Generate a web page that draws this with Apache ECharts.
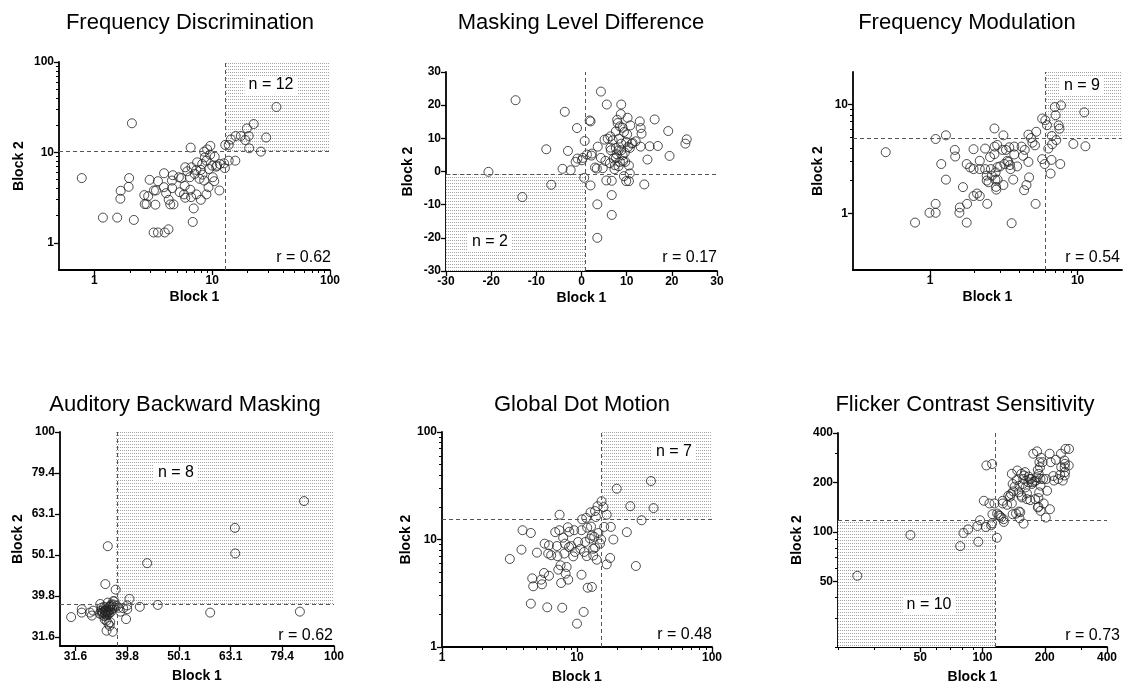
<!DOCTYPE html>
<html>
<head>
<meta charset="utf-8">
<script src="https://cdn.jsdelivr.net/npm/echarts@6/dist/echarts.min.js"></script>
<style>
  html, body { margin: 0; background: #fff; }
  #chart { width: 1128px; height: 687px; }
</style>
</head>
<body>
<div id="chart"></div>
<script>
// ---- data (Block 1 / Block 2 thresholds per listener) ----
const fdBlock1 = [0.78, 2.08, 1.18, 1.56, 2.16, 1.67, 1.66, 1.97, 1.95, 2.65,
  2.67, 2.77, 2.94, 2.86, 3.2, 3.33, 3.29, 3.18, 3.46, 3.9,
  3.46, 3.89, 4.06, 3.95, 4.25, 4.27, 4.4, 4.69, 4.57, 4.63,
  4.55, 5.21, 5.47, 5.29, 5.83, 5.76, 5.9, 5.9, 6.14, 6.44,
  6.56, 6.52, 6.67, 6.62, 6.96, 6.83, 7.1, 7.34, 7.44, 7.34,
  8.0, 8.0, 8.26, 8.22, 8.54, 8.66, 8.54, 8.93, 9.3, 9.06,
  9.64, 9.6, 10.0, 10.1, 10.4, 10.5, 10.8, 11.0, 11.5, 11.6,
  12.6, 12.8, 12.9, 13.8, 13.8, 14.4, 15.7, 15.8, 17.5, 19.1,
  19.7, 20.4, 20.6, 22.5, 25.9, 28.7, 35.1, 8.93, 9.4, 7.8];
const fdBlock2 = [5.2, 21, 1.9, 1.9, 1.79, 3.76, 3.07, 5.2, 4.16, 3.37,
  2.68, 2.68, 4.97, 3.28, 3.79, 3.79, 2.64, 1.3, 1.3, 5.88,
  4.8, 4.12, 3.54, 1.3, 1.41, 2.99, 2.66, 2.66, 4.02, 5.59,
  4.88, 5.31, 5.2, 3.63, 4.26, 3.43, 3.15, 6.84, 6.18, 5.31,
  11.3, 3.86, 6.84, 3.2, 2.4, 1.7, 5.78, 6.4, 7.76, 3.43,
  2.99, 6.4, 5.68, 7.44, 10.2, 8.81, 4.88, 3.43, 4.12, 10.8,
  11.8, 9.43, 7.13, 5.31, 4.8, 8.96, 6.95, 7.13, 3.79, 7.44,
  7.57, 6.7, 12.1, 12.1, 8.1, 13.9, 8.1, 15.2, 15.2, 13.7,
  18.4, 15.2, 11.1, 20.6, 10.2, 14.6, 31.8, 8.08, 6.55, 5.1];

const mldBlock1 = [-14.6, -20.6, -13.1, -7.8, -6.7, -4.2, -3.7, -3.0, -2.4, -1.3,
  -1.0, -0.9, 0.1, 0.3, 0.6, 0.7, 1.2, 1.8, 2.0, 2.0,
  2.3, 2.2, 3.0, 3.4, 3.5, 3.5, 3.6, 4.3, 4.3, 4.7,
  5.1, 5.3, 5.5, 5.6, 5.8, 6.3, 6.4, 6.4, 6.5, 6.7,
  6.7, 6.7, 6.9, 7.1, 7.3, 7.6, 7.6, 7.6, 7.9, 8.0,
  8.2, 8.2, 8.3, 8.5, 8.7, 8.8, 8.8, 8.8, 9.1, 9.2,
  9.4, 9.4, 9.6, 9.7, 9.9, 9.9, 10.1, 10.2, 10.3, 10.5,
  10.5, 10.7, 10.7, 10.8, 11.1, 11.3, 12.0, 12.9, 13.1, 13.3,
  13.1, 13.9, 14.6, 15.1, 16.2, 16.9, 19.2, 19.5, 23.0, 23.3,
  7.4, 7.8, 8.5, 9.1];
const mldBlock2 = [21.5, -0.1, -7.7, 6.7, -4.0, 0.8, 18.0, 6.2, 0.4, 2.9,
  13.1, 3.9, 3.4, 4.1, -1.9, 9.2, 5.1, 15.4, 15.1, -4.2,
  5.4, 4.8, 1.2, 0.9, -9.9, -20.0, 7.5, 24.1, 4.1, 1.0,
  9.6, 3.2, -2.7, 20.2, 9.9, 2.5, 10.6, 7.2, 6.4, -7.1,
  -2.8, -13.1, 9.4, 3.9, 0.7, 7.1, 4.1, 12.1, 15.6, 14.6,
  6.4, 1.6, 9.9, 13.6, 17.3, 20.2, 6.4, 8.4, 4.9, 3.1,
  -1.4, 11.9, 5.7, 2.9, -2.9, 8.9, 11.2, 16.2, 7.4, 1.8,
  -2.9, -0.6, 7.1, 13.9, 8.4, 8.6, 9.1, 15.1, 13.1, 11.4,
  7.5, -3.9, 3.6, 7.6, 15.7, 7.7, 12.2, 4.7, 8.4, 9.7,
  1.9, 5.2, 2.9, 13.2];

const fmBlock1 = [0.50, 0.79, 0.99, 1.09, 1.09, 1.09, 1.19, 1.28, 1.28, 1.47,
  1.48, 1.58, 1.59, 1.67, 1.77, 1.78, 1.77, 1.87, 1.97, 1.97,
  1.97, 2.08, 2.17, 2.17, 2.17, 2.36, 2.36, 2.42, 2.44, 2.42,
  2.49, 2.55, 2.58, 2.62, 2.73, 2.73, 2.74, 2.77, 2.8, 2.81,
  2.78, 2.85, 2.86, 2.87, 2.98, 3.1, 3.14, 3.14, 3.19, 3.27,
  3.34, 3.39, 3.44, 3.48, 3.51, 3.57, 3.66, 3.72, 3.72, 3.89,
  4.17, 4.27, 4.38, 4.34, 4.5, 4.64, 4.69, 4.64, 4.83, 4.94,
  5.19, 5.14, 5.24, 5.75, 5.75, 5.98, 6.04, 6.2, 6.33, 6.56,
  6.65, 6.69, 6.72, 7.17, 7.01, 7.09, 7.44, 7.53, 7.63, 7.72,
  9.36, 11.1, 11.3];
const fmBlock2 = [3.65, 0.82, 1.01, 1.01, 1.22, 4.83, 2.84, 5.22, 2.04, 3.83,
  3.33, 1.01, 1.13, 1.74, 2.84, 1.22, 0.82, 2.64, 3.89, 2.55,
  1.44, 1.52, 1.44, 3.04, 2.55, 3.94, 2.55, 2.22, 1.22, 2.0,
  1.93, 3.29, 2.55, 2.22, 6.04, 3.5, 4.11, 2.04, 1.75, 1.65,
  2.38, 4.26, 2.66, 2.04, 2.7, 3.83, 5.22, 1.82, 2.84, 3.83,
  3.04, 2.97, 4.05, 2.78, 2.55, 0.81, 2.04, 3.48, 4.11, 2.7,
  4.11, 3.38, 3.83, 1.63, 1.82, 2.97, 2.14, 5.3, 4.93, 4.47,
  1.22, 4.22, 5.63, 3.15, 7.45, 2.84, 7.19, 6.47, 3.94, 2.32,
  3.1, 5.15, 4.32, 4.72, 9.5, 8.0, 6.44, 6.0, 2.84, 9.86,
  4.35, 8.51, 4.14];

const abmBlock1 = [31.0, 32.5, 32.5, 33.7, 34.2, 34.0, 35.3, 35.6, 36.1, 36.5,
  36.3, 36.8, 37.3, 36.8, 37.4, 37.8, 37.6, 38.6, 39.1, 39.6,
  39.8, 39.8, 40.2, 42.1, 43.5, 45.6, 57.6, 64.3, 64.4, 87.5,
  85.9,
  35.2, 35.4, 35.6, 35.7, 35.8, 35.9, 36.0, 36.0, 36.1, 36.2,
  36.2, 36.3, 36.4, 36.4, 36.5, 36.6, 36.6, 36.7, 36.8, 36.9,
  37.0, 37.1, 37.3, 37.4, 36.0, 36.3, 36.6, 36.9, 37.2, 35.5,
  35.9, 36.5, 37.6, 38.0, 38.3];
const abmBlock2 = [35.3, 36.9, 36.2, 36.2, 36.6, 35.6, 38.0, 36.2, 42.5, 52.6,
  32.7, 33.6, 32.5, 37.4, 38.6, 41.2, 38.6, 36.4, 37.1, 34.9,
  36.9, 37.7, 39.1, 37.4, 47.8, 37.8, 36.2, 58.3, 50.5, 67.8,
  36.4,
  36.0, 36.6, 35.8, 36.3, 36.9, 35.5, 36.1, 36.6, 35.9, 36.4,
  37.0, 35.6, 36.2, 36.8, 35.9, 36.5, 37.3, 36.0, 36.7, 37.6,
  36.3, 37.9, 37.5, 37.9, 34.8, 34.6, 34.0, 34.3, 36.9, 37.2,
  37.4, 38.3, 37.2, 37.6, 37.2];

const gdmBlock1 = [3.18, 3.88, 3.95, 4.55, 4.66, 4.74, 4.55, 5.05, 5.43, 5.5,
  5.7, 5.76, 6.02, 6.12, 6.2, 6.2, 6.44, 6.9, 7.1, 7.16,
  7.27, 7.43, 7.4, 7.55, 7.63, 7.77, 7.9, 8.06, 8.15, 8.24,
  8.38, 8.55, 8.61, 8.73, 8.77, 9.07, 9.38, 9.53, 9.67, 10.0,
  10.2, 10.6, 10.8, 10.8, 10.9, 11.2, 11.3, 11.5, 11.7, 11.8,
  11.9, 12.0, 12.5, 12.6, 12.7, 12.9, 12.9, 13.2, 13.2, 13.4,
  13.6, 13.6, 13.8, 14.0, 14.2, 14.4, 14.8, 15.1, 15.2, 15.7,
  15.9, 16.6, 16.6, 17.6, 17.8, 18.6, 19.7, 23.4, 24.8, 27.3,
  30.1, 35.3, 36.9];
const gdmBlock2 = [6.59, 8.04, 12.2, 11.5, 4.35, 3.67, 2.53, 7.55, 4.23, 3.83,
  4.88, 9.15, 2.34, 7.4, 4.6, 8.83, 7.14, 11.7, 8.7, 7.0,
  5.24, 17.0, 12.2, 5.75, 3.94, 2.32, 10.4, 7.4, 9.15, 4.81,
  5.55, 13.0, 4.23, 8.5, 11.8, 8.69, 6.97, 12.2, 7.66, 1.65,
  9.48, 8.2, 4.7, 12.2, 15.4, 2.12, 7.66, 9.48, 15.9, 7.0,
  12.9, 3.56, 10.2, 17.9, 13.2, 10.9, 3.62, 8.2, 7.1, 10.6,
  18.4, 8.4, 16.2, 6.49, 20.4, 11.5, 9.15, 10.0, 22.7, 20.0,
  13.1, 5.87, 17.0, 6.73, 13.1, 10.0, 29.7, 11.7, 20.4, 5.67,
  15.1, 35.0, 19.6];

const fcsBlock1 = [24.8, 44.8, 78.0, 80.9, 85.2, 94.5, 95.4, 97.3, 103.7, 101.5,
  110.1, 111.3, 111.7, 108.0, 114.2, 117.3, 104.4, 111.3, 117.7, 119.7,
  121.3, 123.2, 125.2, 126.4, 126.8, 125.2, 131.5, 133.3, 135.7, 137.4,
  138.6, 138.6, 139.9, 139.9, 140.7, 143, 145.2, 146.4, 147.3, 149.6,
  150.9, 150, 150.9, 152.3, 154.1, 154.1, 155.1, 156.5, 157.5, 158,
  159, 160.5, 161.5, 164, 164, 166.6, 167.1, 169.2, 170.2, 171.8,
  173.4, 174.4, 176, 178.2, 179.8, 180.9, 182.5, 183.6, 185.2, 185.2,
  186.3, 186.9, 188, 189.7, 190.8, 190.8, 188.5, 191.9, 195.3, 197.6,
  186.3, 190.8, 196.5, 203.4, 205.2, 202.3, 213.6, 221.7, 211.8, 240.2,
  244.3, 237.3, 239.5, 248.8, 250.5, 250.5, 249.7, 249.7, 252, 262,
  261.1, 211.2, 226.5, 232, 220];
const fcsBlock2 = [54.2, 95.9, 82.1, 98.6, 103.8, 108.8, 87.3, 117.9, 107.3, 154.9,
  109.9, 113, 128.3, 149.2, 149.2, 92.3, 253.9, 259, 129.5, 126.5,
  125.3, 122.4, 149.2, 119.6, 115.2, 154.9, 146.4, 166.3, 163.9, 170.3,
  149.2, 225.8, 128.3, 196, 176.6, 188.7, 129.5, 207.2, 236.6, 174.3,
  191.3, 133.2, 121.2, 132, 166.3, 225.8, 162.3, 196, 210.2, 112.5,
  220.5, 231.2, 186.8, 171.8, 158.5, 200.8, 217.4, 210.2, 156.3, 210.2,
  196, 200.8, 299.3, 202.7, 158.5, 205.5, 215.4, 309.4, 141, 238.5,
  160.9, 225.8, 174.3, 247.7, 191.3, 134.5, 265.8, 282.7, 265.8, 149.2,
  142.4, 210.2, 210.2, 210.2, 178.3, 122.4, 265.8, 205.5, 137.6, 247.7,
  205.5, 223, 299.3, 272.2, 259.9, 231.2, 247.7, 220.5, 320, 320,
  253.8, 299.3, 275, 210, 219];

const titles = ['Frequency Discrimination', 'Masking Level Difference', 'Frequency Modulation',
  'Auditory Backward Masking', 'Global Dot Motion', 'Flicker Contrast Sensitivity'];
const nText = ['n = 12', 'n = 2', 'n = 9', 'n = 8', 'n = 7', 'n = 10'];
const rText = ['r = 0.62', 'r = 0.17', 'r = 0.54', 'r = 0.62', 'r = 0.48', 'r = 0.73'];
const cutX = [12.9, 0.8, 6.0, 37.8, 15.1, 115];
const cutY = [10.2, -0.8, 4.9, 37.8, 15.4, 118];
const xLim = [[0.5, 100], [-30, 30], [0.3, 20], [29.5, 100], [1, 100], [20, 400]];
const yLim = [[0.5, 100], [-30, 30], [0.3, 20], [30, 100], [1, 100], [20, 400]];
const majorTicks = [[1, 10, 100], null, [1, 10], [31.6, 39.8, 50.1, 63.1, 79.4, 100], [1, 10, 100], [50, 100, 200, 400]];
const minorTicks = [
  [2, 3, 4, 5, 6, 7, 8, 9, 20, 30, 40, 50, 60, 70, 80, 90],
  [],
  [2, 3, 4, 5, 6, 7, 8, 9],
  [],
  [2, 3, 4, 5, 6, 7, 8, 9, 20, 30, 40, 50, 60, 70, 80, 90],
  [20, 30, 40, 60, 70, 80, 90, 300]
];

const block1 = [fdBlock1, mldBlock1, fmBlock1, abmBlock1, gdmBlock1, fcsBlock1];
const block2 = [fdBlock2, mldBlock2, fmBlock2, abmBlock2, gdmBlock2, fcsBlock2];

// ---- layout / style ----
const FONT = '"Liberation Sans", Arial, sans-serif';
const layout = [
  { left: 59, top: 62, width: 271, height: 208, shade: 'ur', title: [190, 23], n: [271, 85], r: [331, 258], xGap: 20, yGap: 33 },
  { left: 446, top: 72, width: 271, height: 199, shade: 'll', title: [581, 23], n: [490, 242], r: [717, 258], xGap: 20, yGap: 31 },
  { left: 853, top: 72, width: 269, height: 198, shade: 'ur', title: [967, 23], n: [1082, 86], r: [1120, 258], xGap: 20, yGap: 28 },
  { left: 60, top: 432, width: 274, height: 214, shade: 'ur', title: [185, 405], n: [176, 473], r: [333, 636], xGap: 23, yGap: 35 },
  { left: 442, top: 432, width: 270, height: 215, shade: 'ur', title: [582, 405], n: [674, 452], r: [712, 635], xGap: 23, yGap: 27 },
  { left: 838, top: 433, width: 269, height: 214, shade: 'll', title: [965, 405], n: [929, 605], r: [1120, 636], xGap: 23, yGap: 34 }
];

function dotPattern() {
  const c = document.createElement('canvas');
  c.width = 2; c.height = 3;
  const g = c.getContext('2d');
  g.fillStyle = '#fff';
  g.fillRect(0, 0, 2, 3);
  g.fillStyle = '#a4a4a4';
  g.fillRect(0, 0, 1, 1);
  return c;
}
const pattern = { image: dotPattern(), repeat: 'repeat' };

const fmt = v => {
  const r = Math.pow(10, v);
  return Math.abs(r - Math.round(r)) < 0.05 ? String(Math.round(r)) : r.toFixed(1);
};

function mainAxis(dim, gi, log, lim, major, name, gap) {
  const t = log ? Math.log10 : v => v;
  const ax = {
    type: 'value', gridIndex: gi, position: dim === 'x' ? 'bottom' : 'left',
    min: t(lim[0]), max: t(lim[1]),
    name: name, nameLocation: 'middle', nameGap: gap,
    nameTextStyle: { fontFamily: FONT, fontWeight: 'bold', fontSize: 14, color: '#000' },
    axisLine: { show: true, onZero: false, lineStyle: { color: '#000', width: 1.8 } },
    axisTick: { show: true, length: 5, lineStyle: { color: '#000', width: 1.3 } },
    axisLabel: { fontFamily: FONT, fontWeight: 'bold', fontSize: 12, color: '#000', margin: 5 },
    splitLine: { show: false }
  };
  if (log) {
    ax.axisTick.customValues = major.map(v => Math.log10(v));
    ax.axisLabel.customValues = major.map(v => Math.log10(v));
    ax.axisLabel.formatter = fmt;
  } else {
    ax.interval = 10;
  }
  return ax;
}

function minorAxis(dim, gi, lim, minor) {
  return {
    type: 'value', gridIndex: gi, position: dim === 'x' ? 'bottom' : 'left',
    min: Math.log10(lim[0]), max: Math.log10(lim[1]),
    axisLine: { show: false, onZero: false },
    axisLabel: { show: false },
    splitLine: { show: false },
    axisTick: { show: true, length: 3, customValues: minor.map(v => Math.log10(v)),
      lineStyle: { color: '#000', width: 1 } }
  };
}

const grids = [], xAxes = [], yAxes = [], series = [], graphics = [];

layout.forEach((L, i) => {
  const log = majorTicks[i] !== null;
  const t = log ? Math.log10 : v => v;
  grids.push({ left: L.left, top: L.top, width: L.width, height: L.height, outerBoundsMode: 'none' });
  const xi = xAxes.length, yi = yAxes.length;
  xAxes.push(mainAxis('x', i, log, xLim[i], majorTicks[i], 'Block 1', L.xGap));
  yAxes.push(mainAxis('y', i, log, yLim[i], majorTicks[i], 'Block 2', L.yGap));
  if (log && minorTicks[i].length) {
    xAxes.push(minorAxis('x', i, xLim[i], minorTicks[i]));
    yAxes.push(minorAxis('y', i, yLim[i], minorTicks[i]));
  }

  const from = L.shade === 'ur'
    ? { xAxis: t(cutX[i]), yAxis: t(cutY[i]) }
    : { xAxis: t(xLim[i][0]), yAxis: t(yLim[i][0]) };
  const to = L.shade === 'ur'
    ? { xAxis: t(xLim[i][1]), yAxis: t(yLim[i][1]) }
    : { xAxis: t(cutX[i]), yAxis: t(cutY[i]) };

  series.push({
    type: 'scatter', xAxisIndex: xi, yAxisIndex: yi,
    symbol: 'circle', symbolSize: 9, silent: true, z: 3,
    itemStyle: { color: 'rgba(255,255,255,0)', borderColor: '#222', borderWidth: 1 },
    data: block1[i].map((x, k) => [t(x), t(block2[i][k])]),
    markArea: {
      silent: true,
      itemStyle: { color: pattern },
      data: [[from, to]]
    },
    markLine: {
      silent: true, symbol: ['none', 'none'],
      label: { show: false },
      lineStyle: { color: '#555', type: [4, 3], width: 1 },
      data: [{ xAxis: t(cutX[i]) }, { yAxis: t(cutY[i]) }]
    }
  });

  graphics.push({
    type: 'text', x: L.title[0], y: L.title[1], z: 100,
    style: { text: titles[i], font: '22px ' + FONT, fill: '#000',
      align: 'center', verticalAlign: 'middle', textAlign: 'center', textVerticalAlign: 'middle' }
  });
  graphics.push({
    type: 'text', x: L.n[0], y: L.n[1], z: 100,
    style: { text: nText[i], font: '16px ' + FONT, fill: '#000', backgroundColor: '#fff', padding: [1, 4],
      align: 'center', verticalAlign: 'middle', textAlign: 'center', textVerticalAlign: 'middle' }
  });
  graphics.push({
    type: 'text', x: L.r[0], y: L.r[1], z: 100,
    style: { text: rText[i], font: '16px ' + FONT, fill: '#000',
      align: 'right', verticalAlign: 'middle', textAlign: 'right', textVerticalAlign: 'middle' }
  });
});

const chart = echarts.init(document.getElementById('chart'), null, { renderer: 'canvas' });
chart.setOption({
  animation: false,
  backgroundColor: '#fff',
  grid: grids,
  xAxis: xAxes,
  yAxis: yAxes,
  series: series,
  graphic: graphics
});
</script>
</body>
</html>
